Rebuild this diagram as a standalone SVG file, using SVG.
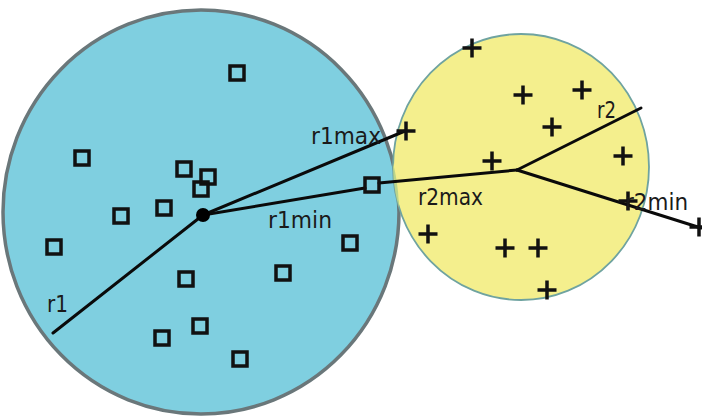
<svg xmlns="http://www.w3.org/2000/svg" xmlns:xlink="http://www.w3.org/1999/xlink" width="702" height="417" viewBox="0 0 702 417">
<style>
.sq{fill:none;stroke:#111;stroke-width:3.5}
.pl{stroke:#111;stroke-width:3.5;fill:none}
.ln{stroke:#0a0a0a;stroke-width:3;fill:none;stroke-linecap:round}
.lb{font-family:"DejaVu Sans",Verdana,sans-serif;font-size:23px;fill:#1a1a1a}
</style>
<defs>
<rect id="sq" x="-7" y="-7" width="14" height="14" class="sq"/>
<path id="pl" d="M-9.5 0H9.5M0-9.5V9.5" class="pl"/>
<clipPath id="clipBlue"><ellipse cx="201" cy="212" rx="198" ry="202"/></clipPath>
</defs>
<rect width="702" height="417" fill="#ffffff"/>
<g id="circle1">
<ellipse cx="201" cy="212" rx="198" ry="202" fill="#7fcfe0" stroke="#6a777a" stroke-width="3.5"/>
</g>
<g id="circle2">
<ellipse cx="521" cy="167" rx="128" ry="133" fill="#f4ef8d" stroke="#6fa3a0" stroke-width="1.8"/>
<ellipse cx="521" cy="167" rx="128" ry="133" fill="#bcd58a" clip-path="url(#clipBlue)"/>
</g>
<g id="connectors">
<line class="ln" x1="203" y1="215" x2="53" y2="333"/>
<line class="ln" x1="203" y1="215" x2="405" y2="131"/>
<line class="ln" x1="203" y1="215" x2="365" y2="188"/>
<line class="ln" x1="379" y1="183" x2="517" y2="170"/>
<line class="ln" x1="517" y1="170" x2="641" y2="108"/>
<line class="ln" x1="517" y1="170" x2="701" y2="228"/>
</g>
<g id="points1">
<use xlink:href="#sq" x="237" y="73"/>
<use xlink:href="#sq" x="82" y="158"/>
<use xlink:href="#sq" x="184" y="169"/>
<use xlink:href="#sq" x="208" y="177"/>
<use xlink:href="#sq" x="201" y="189"/>
<use xlink:href="#sq" x="121" y="216"/>
<use xlink:href="#sq" x="164" y="208"/>
<use xlink:href="#sq" x="54" y="247"/>
<use xlink:href="#sq" x="350" y="243"/>
<use xlink:href="#sq" x="186" y="279"/>
<use xlink:href="#sq" x="283" y="273"/>
<use xlink:href="#sq" x="200" y="326"/>
<use xlink:href="#sq" x="162" y="338"/>
<use xlink:href="#sq" x="240" y="359"/>
<use xlink:href="#sq" x="372" y="185"/>
</g>
<g id="points2">
<use xlink:href="#pl" x="472" y="48"/>
<use xlink:href="#pl" x="523" y="95"/>
<use xlink:href="#pl" x="582" y="90"/>
<use xlink:href="#pl" x="552" y="127"/>
<use xlink:href="#pl" x="406" y="131"/>
<use xlink:href="#pl" x="492" y="161"/>
<use xlink:href="#pl" x="623" y="156"/>
<use xlink:href="#pl" x="428" y="234"/>
<use xlink:href="#pl" x="505" y="248"/>
<use xlink:href="#pl" x="538" y="248"/>
<use xlink:href="#pl" x="547" y="290"/>
<use xlink:href="#pl" x="628" y="201"/>
<use xlink:href="#pl" x="699" y="227"/>
</g>
<g id="center1">
<circle cx="203" cy="215" r="7" fill="#000"/>
</g>
<g id="labels">
<text class="lb" x="311" y="144" textLength="70" lengthAdjust="spacingAndGlyphs">r1max</text>
<text class="lb" x="268" y="228" textLength="64" lengthAdjust="spacingAndGlyphs">r1min</text>
<text class="lb" x="418" y="205" textLength="65" lengthAdjust="spacingAndGlyphs">r2max</text>
<text class="lb" x="597" y="118" textLength="19" lengthAdjust="spacingAndGlyphs">r2</text>
<text class="lb" x="625" y="210" textLength="63" lengthAdjust="spacingAndGlyphs">r2min</text>
<text class="lb" x="47" y="312" textLength="21" lengthAdjust="spacingAndGlyphs">r1</text>
</g>
</svg>
